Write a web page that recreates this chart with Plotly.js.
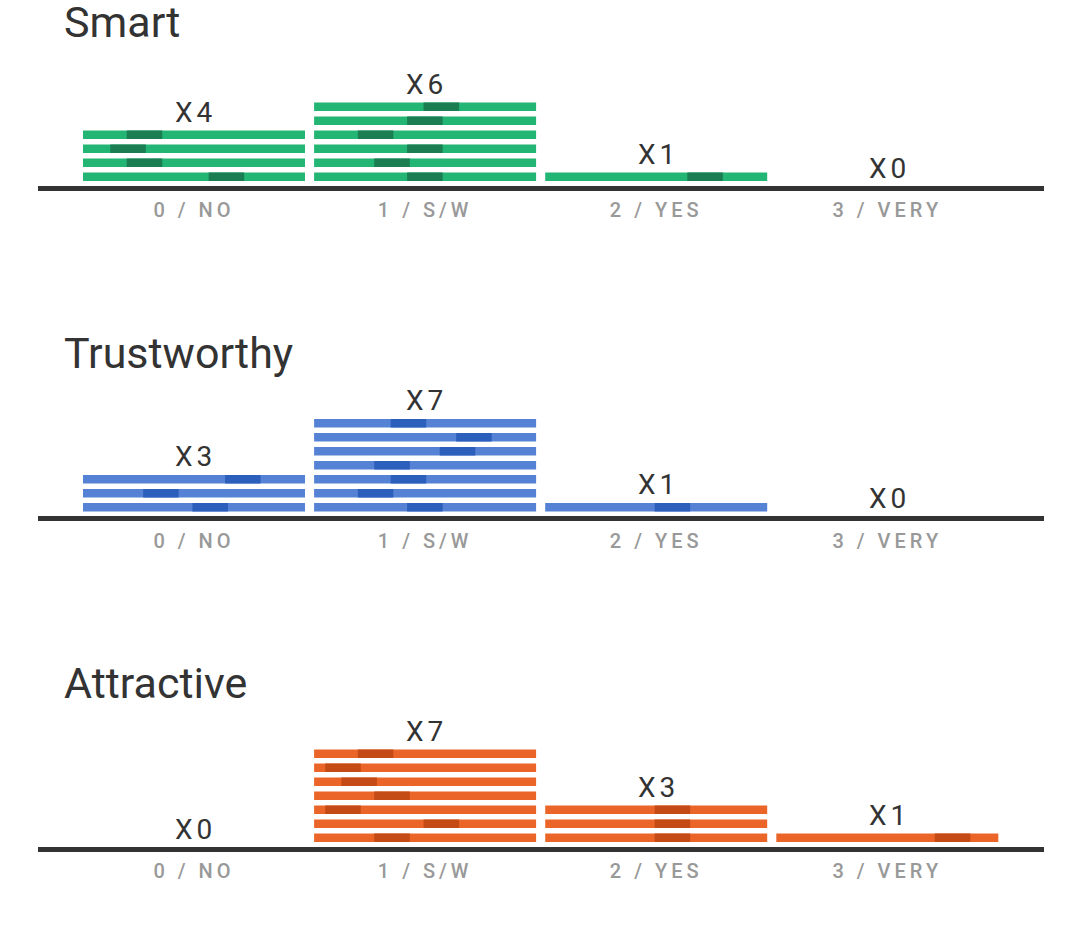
<!DOCTYPE html>
<html><head><meta charset="utf-8">
<script src="https://cdn.plot.ly/plotly-3.0.1.min.js"></script>
<style>
html,body{margin:0;padding:0;background:#fff;}
#chart{width:1080px;height:932px;}
.xaxislayer-above text{letter-spacing:4px;}
</style></head><body><div id="chart"></div>
<script>
// ---- data ----
const categories = ['0 / NO', '1 / S/W', '2 / YES', '3 / VERY'];
const traits = ['Smart', 'Trustworthy', 'Attractive'];
const smartCounts = [4, 6, 1, 0];
const trustworthyCounts = [3, 7, 1, 0];
const attractiveCounts = [0, 7, 3, 1];
// position of the dark mark along each bar (% of bar width), bottom row first
const smartMarks = [[64.6, 27.7, 20.3, 27.7], [49.9, 35.1, 49.9, 27.7, 49.9, 57.3], [72.0], []];
const trustworthyMarks = [[57.3, 35.1, 72.0], [49.9, 27.7, 42.5, 35.1, 64.6, 72.0, 42.5], [57.3], []];
const attractiveMarks = [[], [35.1, 57.3, 13.0, 35.1, 20.3, 13.0, 27.7], [57.3, 57.3, 57.3], [79.4]];

// ---- style ----
const countsList = [smartCounts, trustworthyCounts, attractiveCounts];
const marksList = [smartMarks, trustworthyMarks, attractiveMarks];
const lightColors = ['#22B573', '#5582D4', '#EB6528'];
const darkColors = ['#1B7D52', '#2C5EBB', '#C44B15'];
const H = 932, L = 38, R = 36;
const axisPx = [188.3, 518.8, 849.3];
const U = 14;            // px per row unit
const yMin = -0.2, yMax = 9.5;
const xRange = [-0.675, 3.678];
const barW = 0.9606, markW = 0.16 * 0.9606;
const rowOff = 0.17, rowHalf = 0.30;

const data = [], annotations = [];
const layout = {
  width: 1080, height: H, margin: {l: L, r: R, t: 0, b: 0},
  paper_bgcolor: '#fff', plot_bgcolor: '#fff', showlegend: false,
  barmode: 'overlay', hovermode: false, font: {family: 'Roboto, sans-serif'}
};
const countIdx = [];
traits.forEach((t, p) => {
  const sfx = p === 0 ? '' : String(p + 1);
  const xa = 'x' + sfx, ya = 'y' + sfx;
  const A = axisPx[p];
  const bx = [], bb = [], bh = [], mx = [], mb = [], mh = [];
  countsList[p].forEach((n, i) => {
    for (let j = 1; j <= n; j++) {
      const base = j - rowOff - rowHalf;
      bx.push(i); bb.push(base); bh.push(2 * rowHalf);
      const f = marksList[p][i][j - 1] / 100;
      mx.push(i - barW / 2 + f * barW); mb.push(base); mh.push(2 * rowHalf);
    }
    countIdx.push(annotations.length);
    annotations.push({xref: xa, yref: ya, x: i + 0.008, y: n + 1.45, text: 'X' + n, showarrow: false,
      xanchor: 'center', yanchor: 'middle', font: {size: 28, color: '#333'}});
  });
  data.push({type: 'bar', x: bx, base: bb, y: bh, width: barW, xaxis: xa, yaxis: ya,
    marker: {color: lightColors[p], line: {width: 0}}, hoverinfo: 'skip'});
  data.push({type: 'bar', x: mx, base: mb, y: mh, width: markW, xaxis: xa, yaxis: ya,
    marker: {color: darkColors[p], line: {width: 0}}, hoverinfo: 'skip'});
  layout['xaxis' + sfx] = {anchor: ya, domain: [0, 1], range: xRange, showgrid: false, zeroline: false,
    showline: false, ticks: '', tickvals: [0, 1, 2, 3], ticktext: categories, ticklabelstandoff: 5,
    tickfont: {size: 20, color: '#999', weight: 500}, fixedrange: true};
  layout['yaxis' + sfx] = {anchor: xa, domain: [1 - (A - yMin * U) / H, 1 - (A - yMax * U) / H],
    range: [yMin, yMax], showgrid: false, showticklabels: false, ticks: '',
    zeroline: true, zerolinecolor: '#333', zerolinewidth: 5, fixedrange: true};
  annotations.push({xref: 'paper', yref: 'paper', x: (62 - L) / (1080 - L - R), y: 1 - (A - 166) / H,
    xanchor: 'left', yanchor: 'middle', text: t, showarrow: false, font: {size: 43, color: '#333'}});
});
layout.annotations = annotations;
Plotly.newPlot('chart', data, layout, {displayModeBar: false, staticPlot: true}).then(() => {
  document.querySelectorAll('g.annotation').forEach(g => {
    const k = +g.getAttribute('data-index');
    if (countIdx.includes(k)) g.querySelectorAll('text').forEach(tx => tx.style.letterSpacing = '4px');
  });
});
</script></body></html>
